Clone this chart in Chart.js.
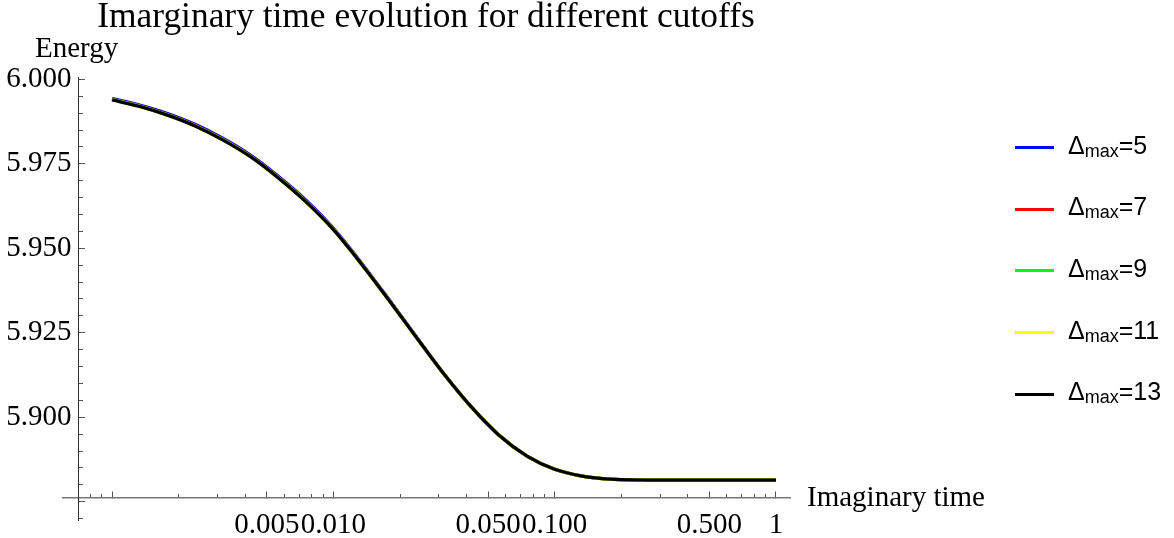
<!DOCTYPE html>
<html>
<head>
<meta charset="utf-8">
<script src="https://cdn.jsdelivr.net/npm/chart.js@4.4.1/dist/chart.umd.min.js"></script>
<style>
  html, body { margin: 0; padding: 0; background: #fff; }
  #wrap { position: relative; width: 1174px; height: 538px; }
  #legend { position: absolute; left: 0; top: 0; font-family: 'Liberation Sans', Arial, sans-serif; color: #000; }
  .item { position: absolute; left: 1015px; width: 150px; height: 30px; line-height: 30px; font-size: 25px; white-space: nowrap; }
  .swatch { position: absolute; left: 0; top: 13.5px; width: 39px; height: 3px; }
  .text { position: absolute; left: 53px; top: -3px; }
  .text sub { font-size: 18px; vertical-align: -3px; line-height: 0; }
</style>
</head>
<body>
<div id="wrap">
  <canvas id="chart"></canvas>
  <div id="legend"></div>
</div>
<script>
// imaginary time samples (log axis)
const times = [0.001, 0.00133, 0.00178, 0.00237, 0.00316, 0.00422, 0.00562, 0.0075, 0.01, 0.0133, 0.0178,
               0.0237, 0.0316, 0.0422, 0.0562, 0.075, 0.1, 0.133, 0.178, 0.316, 0.562, 1];

// energy for each cutoff
const energy5  = [5.9943, 5.9924, 5.9899, 5.9867, 5.9826, 5.9776, 5.9714, 5.9643, 5.9559, 5.9459, 5.9349,
                  5.9238, 5.9128, 5.9029, 5.8946, 5.8885, 5.8846, 5.8826, 5.8817, 5.8814, 5.8814, 5.8814];
const energy7  = [5.9941, 5.9922, 5.9896, 5.9864, 5.9823, 5.9773, 5.9711, 5.9640, 5.9557, 5.9457, 5.9348,
                  5.9237, 5.9128, 5.9029, 5.8946, 5.8885, 5.8846, 5.8826, 5.8817, 5.8814, 5.8814, 5.8814];
const energy9  = [5.9940, 5.9921, 5.9895, 5.9863, 5.9822, 5.9772, 5.9710, 5.9639, 5.9556, 5.9456, 5.9347,
                  5.9237, 5.9128, 5.9029, 5.8946, 5.8885, 5.8846, 5.8826, 5.8817, 5.8814, 5.8814, 5.8814];
const energy11 = [5.9939, 5.9920, 5.9894, 5.9862, 5.9821, 5.9771, 5.9709, 5.9638, 5.9555, 5.9456, 5.9347,
                  5.9237, 5.9128, 5.9029, 5.8946, 5.8885, 5.8846, 5.8826, 5.8817, 5.8814, 5.8814, 5.8814];
const energy13 = [5.9939, 5.9920, 5.9894, 5.9862, 5.9821, 5.9771, 5.9709, 5.9638, 5.9555, 5.9456, 5.9347,
                  5.9237, 5.9128, 5.9029, 5.8946, 5.8885, 5.8846, 5.8826, 5.8817, 5.8814, 5.8814, 5.8814];

const cutoffs = [5, 7, 9, 11, 13];
const energies = [energy5, energy7, energy9, energy11, energy13];
const lineColors = ['#0000ff', '#ff0000', '#00ff00', '#ffff00', '#000000'];

const xMajorTicks = [0.001, 0.005, 0.01, 0.05, 0.1, 0.5, 1];
const xTickLabels = ['', '0.005', '0.010', '0.050', '0.100', '0.500', '1'];
const xMinorTicks = [0.0008, 0.0009, 0.002, 0.003, 0.004, 0.006, 0.007, 0.008, 0.009,
                     0.02, 0.03, 0.04, 0.06, 0.07, 0.08, 0.09, 0.2, 0.3, 0.4, 0.6, 0.7, 0.8, 0.9];
const yMajorTicks = [5.875, 5.9, 5.925, 5.95, 5.975, 6.0];
const yTickLabels = ['', '5.900', '5.925', '5.950', '5.975', '6.000'];
const yMinorTicks = [5.870, 5.880, 5.885, 5.890, 5.895, 5.905, 5.910, 5.915, 5.920, 5.930, 5.935,
                     5.940, 5.945, 5.955, 5.960, 5.965, 5.970, 5.980, 5.985, 5.990, 5.995];

const xRange = [0.000604, 1.157];
const yRange = [5.8694, 6.0007];
const xAxisAt = 5.8762;   // energy where the time axis crosses
const yAxisAt = 0.000706; // time where the energy axis crosses

const serif = "'Liberation Serif', 'Times New Roman', serif";
const tickFont = { family: serif, size: 29 };

const datasets = cutoffs.map((c, i) => ({
    label: 'Δmax=' + c,
    data: times.map((t, j) => ({ x: t, y: energies[i][j] })),
    borderColor: lineColors[i],
    backgroundColor: lineColors[i],
    borderWidth: 3.3,
    pointRadius: 0,
    cubicInterpolationMode: 'monotone',
    order: cutoffs.length - i
}));

const textPlugin = {
    id: 'texts',
    afterDraw(chart) {
        const ctx = chart.ctx;
        const area = chart.chartArea;
        const axisY = chart.scales.y.getPixelForValue(xAxisAt);
        ctx.save();
        ctx.fillStyle = '#000';
        ctx.textBaseline = 'alphabetic';
        ctx.font = '35.4px ' + serif;
        ctx.textAlign = 'center';
        ctx.fillText('Imarginary time evolution for different cutoffs', 426, 27);
        ctx.font = '29px ' + serif;
        ctx.textAlign = 'left';
        ctx.fillText('Energy', 35, 57);
        ctx.fillText('Imaginary time', area.right + 17, axisY + 8);
        ctx.restore();
    }
};

const chart = new Chart(document.getElementById('chart'), {
    type: 'line',
    data: { datasets: datasets },
    options: {
        responsive: true,
        maintainAspectRatio: false,
        animation: false,
        layout: { padding: { left: 63, right: 384, top: 77, bottom: 12 } },
        plugins: {
            legend: { display: false },
            title: { display: false },
            tooltip: { enabled: false }
        },
        scales: {
            x: {
                type: 'logarithmic',
                min: xRange[0], max: xRange[1],
                position: { y: xAxisAt },
                afterBuildTicks: (scale) => { scale.ticks = xMajorTicks.map(v => ({ value: v })); },
                ticks: {
                    autoSkip: false, maxRotation: 0, minRotation: 0,
                    padding: 17, color: '#000', font: tickFont,
                    callback: (v, i) => xTickLabels[i]
                },
                grid: { drawOnChartArea: false, drawTicks: true, tickLength: -7, tickColor: '#555', tickWidth: 1 },
                border: { display: true, color: '#777', width: 1.5 }
            },
            x2: {
                type: 'logarithmic',
                min: xRange[0], max: xRange[1],
                position: { y: xAxisAt },
                afterBuildTicks: (scale) => { scale.ticks = xMinorTicks.map(v => ({ value: v })); },
                ticks: { display: false, autoSkip: false },
                grid: { drawOnChartArea: false, drawTicks: true, tickLength: -4, tickColor: '#555', tickWidth: 1 },
                border: { display: false }
            },
            y: {
                type: 'linear',
                min: yRange[0], max: yRange[1],
                position: { x: yAxisAt },
                afterBuildTicks: (scale) => { scale.ticks = yMajorTicks.map(v => ({ value: v })); },
                ticks: {
                    autoSkip: false, padding: 0, color: '#000', font: tickFont,
                    callback: (v, i) => yTickLabels[i] ? yTickLabels[i] + ' ' : ''
                },
                grid: { drawOnChartArea: false, drawTicks: true, tickLength: -7, tickColor: '#555', tickWidth: 1 },
                border: { display: true, color: '#333', width: 1 }
            },
            y2: {
                type: 'linear',
                min: yRange[0], max: yRange[1],
                position: { x: yAxisAt },
                afterBuildTicks: (scale) => { scale.ticks = yMinorTicks.map(v => ({ value: v })); },
                ticks: { display: false, autoSkip: false },
                grid: { drawOnChartArea: false, drawTicks: true, tickLength: -4, tickColor: '#555', tickWidth: 1 },
                border: { display: false }
            }
        }
    },
    plugins: [textPlugin]
});

// legend with subscripts, built from the datasets
const legend = document.getElementById('legend');
chart.data.datasets.forEach((ds, i) => {
    const item = document.createElement('div');
    item.className = 'item';
    item.style.top = (147.5 + 61.7 * i - 15) + 'px';
    item.innerHTML = '<div class="swatch" style="background:' + ds.borderColor + '"></div>' +
        '<span class="text">Δ<sub>max</sub>=' + cutoffs[i] + '</span>';
    legend.appendChild(item);
});
</script>
</body>
</html>
